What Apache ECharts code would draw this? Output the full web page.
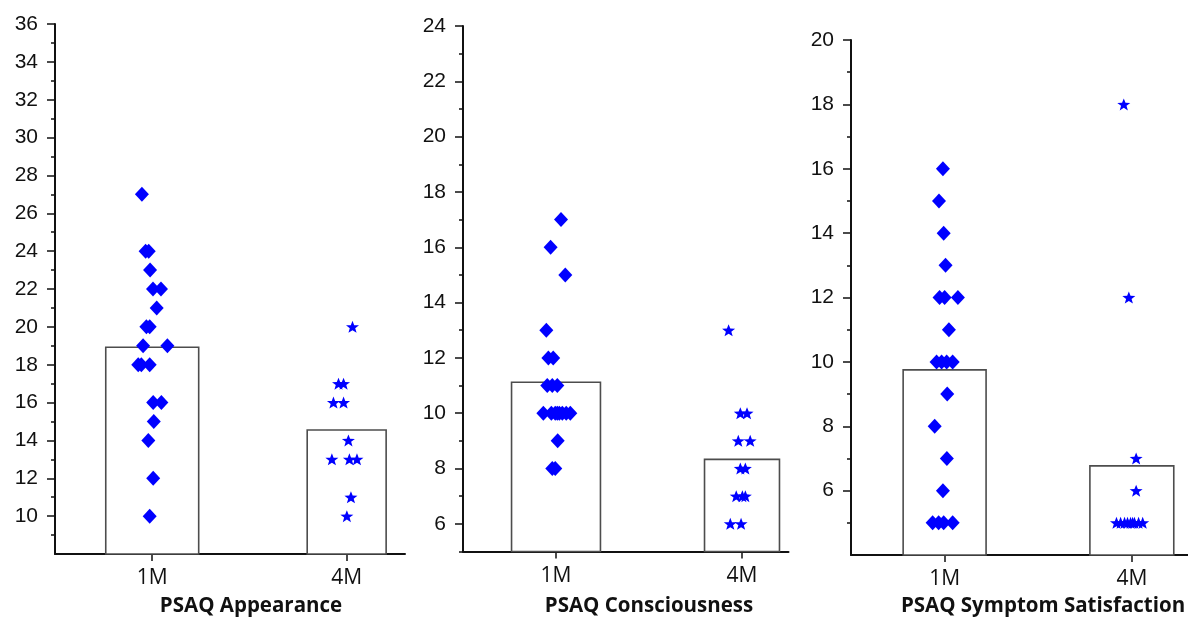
<!DOCTYPE html>
<html><head><meta charset="utf-8">
<script src="https://cdn.jsdelivr.net/npm/echarts@6/dist/echarts.min.js"></script>
<style>html,body{margin:0;padding:0;background:#fff}#c{width:1188px;height:626px}</style>
</head><body><div id="c"></div>
<script>
// ---- data ----
const categories = ['1M', '4M'];
const panelTitles = ['PSAQ Appearance', 'PSAQ Consciousness', 'PSAQ Symptom Satisfaction'];

const yMin = [8, 5, 4];
const yMax = [36, 24, 20];
const majorTicks1 = [10, 12, 14, 16, 18, 20, 22, 24, 26, 28, 30, 32, 34, 36];
const minorTicks1 = [9, 11, 13, 15, 17, 19, 21, 23, 25, 27, 29, 31, 33, 35];
const majorTicks2 = [6, 8, 10, 12, 14, 16, 18, 20, 22, 24];
const minorTicks2 = [5, 7, 9, 11, 13, 15, 17, 19, 21, 23];
const majorTicks3 = [6, 8, 10, 12, 14, 16, 18, 20];
const minorTicks3 = [5, 7, 9, 11, 13, 15, 17, 19];

// bar means
const means1 = [18.92, 14.55];
const means2 = [11.12, 8.33];
const means3 = [9.75, 6.77];

// individual scores and horizontal jitter (in category units)
const app1M = [27, 24, 24, 23, 22, 22, 21, 20, 20, 19, 19, 18, 18, 18, 16, 16, 15, 14, 12, 10];
const app1MJit = [-0.053, -0.034, -0.018, -0.011, 0.004, 0.045, 0.023, -0.030, -0.013, -0.047, 0.078, -0.072, -0.056, -0.013, 0.005, 0.047, 0.008, -0.020, 0.005, -0.013];
const app4M = [20, 17, 17, 16, 16, 14, 13, 13, 13, 11, 10];
const app4MJit = [0.030, -0.042, -0.016, -0.068, -0.016, 0.009, -0.076, 0.014, 0.053, 0.022, 0.001];

const con1M = [17, 16, 15, 13, 12, 12, 11, 11, 11, 10, 10, 10, 10, 10, 10, 10, 10, 9, 8, 8];
const con1MJit = [0.027, -0.029, 0.050, -0.052, -0.041, -0.015, -0.047, -0.020, 0.007, -0.068, -0.025, -0.004, 0.007, 0.018, 0.034, 0.055, 0.077, 0.009, -0.020, -0.004];
const con4M = [13, 10, 10, 9, 9, 8, 8, 7, 7, 7, 6, 6];
const con4MJit = [-0.072, -0.009, 0.027, -0.020, 0.044, -0.009, 0.018, -0.031, 0.002, 0.018, -0.063, -0.005];

const sym1M = [16, 15, 14, 13, 12, 12, 12, 11, 10, 10, 10, 10, 9, 8, 7, 6, 5, 5, 5, 5];
const sym1MJit = [-0.009, -0.030, -0.005, 0.005, -0.027, 0.000, 0.071, 0.023, -0.043, -0.016, 0.011, 0.043, 0.014, -0.053, 0.012, -0.009, -0.064, -0.032, -0.005, 0.043];
const sym4M = [18, 12, 7, 6, 5, 5, 5, 5, 5, 5, 5, 5, 5];
const sym4MJit = [-0.043, -0.016, 0.023, 0.023, -0.082, -0.060, -0.039, -0.023, -0.007, 0.004, 0.014, 0.036, 0.058];

// ---- layout / style ----
const grids = [
  { left: 55, top: 24, width: 350, height: 530 },
  { left: 463, top: 26, width: 325.5, height: 525.5 },
  { left: 851, top: 40, width: 337, height: 515 }
];
const xMax = [2.3, 2.25, 2.3];
const barWidths = [[0.478, 0.406], [0.478, 0.403], [0.443, 0.448]];
const titlePos = [[251, 606], [649, 606], [1043, 606]];
const majors = [majorTicks1, majorTicks2, majorTicks3];
const minors = [minorTicks1, minorTicks2, minorTicks3];
const means = [means1, means2, means3];
const pts1M = [[app1M, app1MJit], [con1M, con1MJit], [sym1M, sym1MJit]];
const pts4M = [[app4M, app4MJit], [con4M, con4MJit], [sym4M, sym4MJit]];

const BLUE = '#0000ff';
const STAR = 'path://M12,1 L14.9,8.6 L23,8.9 L16.6,14 L18.9,22 L12,17.5 L5.1,22 L7.4,14 L1,8.9 L9.1,8.6 Z';

const xAxes = [], yAxes = [], series = [], graphics = [];
for (let p = 0; p < 3; p++) {
  xAxes.push({
    type: 'value', gridIndex: p, min: 0.5, max: xMax[p],
    axisLine: { show: true, lineStyle: { color: '#111', width: 2 } },
    axisTick: { show: true, customValues: [1, 2], length: 7, lineStyle: { color: '#111', width: 1.5 } },
    axisLabel: { customValues: [1, 2], formatter: v => categories[Math.round(v) - 1], fontSize: 21, color: '#111', fontFamily: 'Open Sans', margin: 14 },
    splitLine: { show: false }
  });
  yAxes.push({
    type: 'value', gridIndex: p, position: 'left', min: yMin[p], max: yMax[p],
    axisLine: { show: true, lineStyle: { color: '#111', width: 2 } },
    axisTick: { show: true, customValues: majors[p], length: 8, lineStyle: { color: '#111', width: 1.5 } },
    axisLabel: { customValues: majors[p], fontSize: 21, color: '#111', fontFamily: 'Liberation Sans', margin: 17 },
    splitLine: { show: false }
  });
  yAxes.push({
    type: 'value', gridIndex: p, position: 'left', offset: 0, min: yMin[p], max: yMax[p],
    axisLine: { show: false },
    axisTick: { show: true, customValues: minors[p], length: 4, lineStyle: { color: '#111', width: 1.5 } },
    axisLabel: { show: false },
    splitLine: { show: false }
  });
  const w = barWidths[p], base = yMin[p];
  series.push({
    type: 'custom', xAxisIndex: p, yAxisIndex: p * 2, z: 1,
    data: means[p].map((m, i) => [i + 1, m]),
    renderItem: function (params, api) {
      const x = api.value(0), v = api.value(1);
      const top = api.coord([x, v]);
      const bot = api.coord([x, base]);
      const bw = api.size([w[params.dataIndex], 0])[0];
      return { type: 'rect', shape: { x: top[0] - bw / 2, y: top[1], width: bw, height: bot[1] - top[1] },
        style: { fill: '#fff', stroke: '#4d4d4d', lineWidth: 1.6 } };
    }
  });
  series.push({
    type: 'scatter', xAxisIndex: p, yAxisIndex: p * 2, z: 3,
    symbol: 'diamond', symbolSize: [14, 15],
    itemStyle: { color: BLUE, opacity: 1 },
    data: pts1M[p][0].map((v, i) => [1 + pts1M[p][1][i], v])
  });
  series.push({
    type: 'scatter', xAxisIndex: p, yAxisIndex: p * 2, z: 3,
    symbol: STAR, symbolSize: [13, 12],
    itemStyle: { color: BLUE, opacity: 1 },
    data: pts4M[p][0].map((v, i) => [2 + pts4M[p][1][i], v])
  });
  graphics.push({
    type: 'text', x: titlePos[p][0], y: titlePos[p][1],
    style: { text: panelTitles[p], font: 'bold 20.5px "Open Sans"', fill: '#111', align: 'center', verticalAlign: 'middle' }
  });
}

const chart = echarts.init(document.getElementById('c'), null, { renderer: 'canvas' });
chart.setOption({
  animation: false,
  backgroundColor: '#fff',
  grid: grids,
  xAxis: xAxes,
  yAxis: yAxes,
  series: series,
  graphic: graphics
});
</script></body></html>
